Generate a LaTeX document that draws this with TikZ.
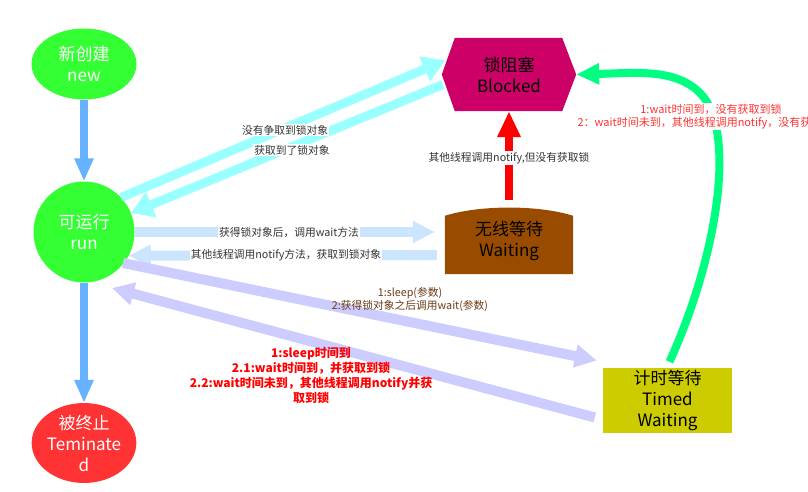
\documentclass[tikz,border=0pt]{standalone}
\usepackage{fontspec}
\setmainfont{Noto Sans CJK SC}
\usetikzlibrary{arrows.meta,shapes.geometric,calc,backgrounds}
\definecolor{cNew}{HTML}{33FF33}
\definecolor{cTerm}{HTML}{FF3333}
\definecolor{cBlocked}{HTML}{CC0066}
\definecolor{cWait}{HTML}{994C00}
\definecolor{cTimed}{HTML}{CCCC00}
\definecolor{cBlue}{HTML}{66B2FF}
\definecolor{cCyan}{HTML}{99FFFF}
\definecolor{cLBlue}{HTML}{CCE5FF}
\definecolor{cLav}{HTML}{CCCCFF}
\definecolor{cGreen}{HTML}{00FF80}
\definecolor{cRed}{HTML}{FF0000}
\definecolor{cGray}{HTML}{333333}
\definecolor{cBrown}{HTML}{6B3A14}
\definecolor{cLRed}{HTML}{FF3333}
\tikzset{
  state/.style={font=\fontsize{17}{21}\selectfont, align=center, inner sep=0pt},
  lbl/.style={font=\fontsize{10.75}{13}\selectfont, text=cGray, fill=white, inner sep=1pt, align=center},
  bluearr/.style={draw=cBlue, line width=8pt, -{Triangle[length=23pt,width=18pt]}},
  cyanarr/.style={draw=cCyan, line width=9pt, -{Triangle[length=22pt,width=26pt]}},
  lbarr/.style={draw=cLBlue, line width=10pt, -{Triangle[length=22pt,width=21pt]}},
  lavarr/.style={draw=cLav, line width=10pt, -{Triangle[length=22pt,width=22pt]}},
  redarr/.style={draw=cRed, line width=8pt, -{Triangle[length=26pt,width=22pt]}},
  greenarr/.style={draw=cGreen, line width=8pt, -{Triangle[length=23pt,width=20pt]}},
}
\begin{document}
\begin{tikzpicture}[x=1pt,y=-1pt]
\useasboundingbox (0,0) rectangle (808,492);
\clip (0,0) rectangle (808,492);

% states
\node[state, ellipse, fill=cNew, text=white, minimum width=105pt, minimum height=71pt] (new) at (84,64) {新创建\\new};
\node[state, circle, fill=cNew, text=white, minimum size=101pt] (run) at (84,232) {可运行\\run};
\node[state, ellipse, fill=cTerm, text=white, minimum width=102pt, minimum height=77pt] (term) at (84,443) {被终止\\Teminate\\d};
\node[state, rectangle, minimum width=134pt, minimum height=73pt] (blocked) at (509,74.5) {锁阻塞\\Blocked};
\node[state, rectangle, minimum width=128pt, minimum height=66pt] (waiting) at (509,241) {无线等待\\Waiting};
\node[state, rectangle, fill=cTimed, minimum width=129pt, minimum height=65pt] (timed) at (667.5,400.5) {计时等待\\Timed\\Waiting};

\begin{scope}[on background layer]
  \fill[cBlocked] (blocked.west) -- ($(blocked.north west)+(13,0)$) -- ($(blocked.north east)+(-14,0)$)
    -- (blocked.east) -- ($(blocked.south east)+(-14,0)$) -- ($(blocked.south west)+(13,0)$) -- cycle;
  \fill[cWait] (waiting.south west) -- ($(waiting.north west)+(0,8)$)
    .. controls ($(waiting.north west)+(35,-3)$) and ($(waiting.north east)+(-35,-3)$) .. ($(waiting.north east)+(0,8)$)
    -- (waiting.south east) -- cycle;
\end{scope}

% connectors
\draw[bluearr] (new.south) -- (run.north);
\draw[bluearr] (run.south) -- (term.north);

\draw[cyanarr] (run.43) -- ($(blocked.center)+(-64,-14)$);
\draw[cyanarr] ($(blocked.center)+(-66,10)$) -- (run.22);

\draw[lbarr, shorten >=10pt] (run.east) -- (run.east -| waiting.west);
\draw[lbarr] ($(waiting.west)+(-8,14)$) -- (run.-28);

\draw[lavarr] ($(run.center)+(39,31)$) -- ($(timed.west)+(-6,-40)$);
\draw[lavarr] ($(timed.west)+(-8,17)$) -- ($(run.center)+(28,56)$);

\draw[redarr] ($(waiting.north)+(0,-8)$) -- (blocked.south);

\draw[greenarr] ($(timed.north)+(2,-6)$) .. controls (718,255) and (737,130) .. (700,93)
  .. controls (675,68) and (635,73) .. (blocked.east);

% labels
\node[lbl] (l1) at (285,130) {没有争取到锁对象};
\node[lbl] (l2) at (292,150) {获取到了锁对象};
\node[lbl] (l3) at (289,233) {获得锁对象后，调用wait方法};
\node[lbl] (l4) at (286,255) {其他线程调用notify方法，获取到锁对象};
\node[lbl] (l5) at (509,158) {其他线程调用notify,但没有获取锁};
\node[lbl, text=cBrown, fill=none] (l6) at (410,300) {1:sleep(参数)\\2:获得锁对象之后调用wait(参数)};
\node[lbl, text=cRed, fill=none, font=\fontsize{12}{15}\selectfont\bfseries] (l7) at (311,375.5)
  {1:sleep时间到\\2.1:wait时间到，并获取到锁\\2.2:wait时间未到，其他线程调用notify并获\\取到锁};
\node[lbl, text=cLRed, font=\fontsize{11}{13}\selectfont] (l8) at (711,116.5)
  {1:wait时间到，没有获取到锁\\2：wait时间未到，其他线程调用notify，没有获取到锁};
\end{tikzpicture}
\end{document}
